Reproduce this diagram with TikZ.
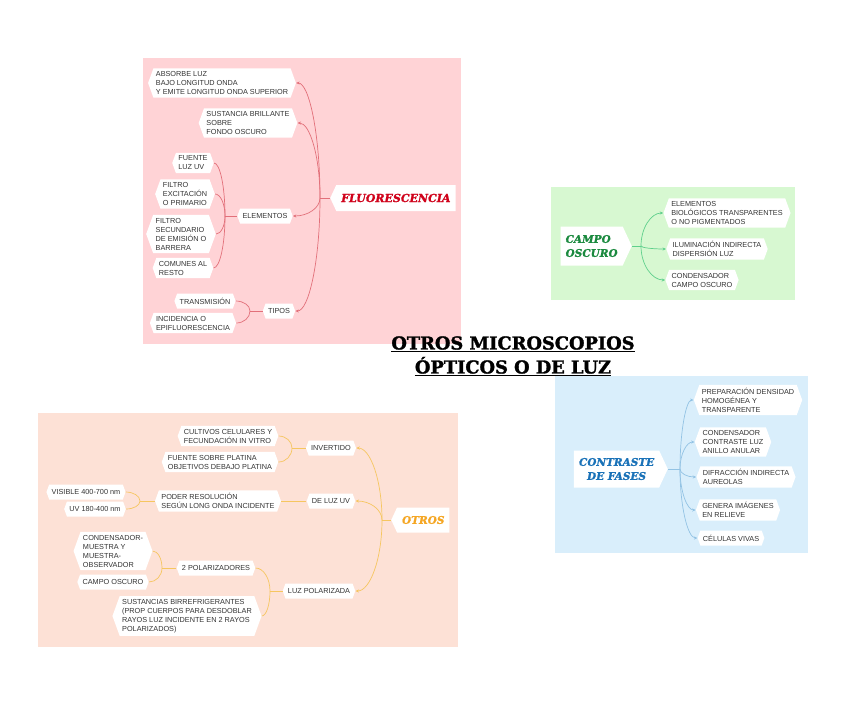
\documentclass[tikz,border=0pt]{standalone}
\usepackage{fontspec}
\setmainfont{Liberation Sans}
\newfontfamily\decofont{DejaVu Serif}[FakeBold=1.6]
\usetikzlibrary{shapes.symbols,arrows.meta,calc}
\definecolor{pinkbg}{HTML}{FFD3D6}
\definecolor{pinkln}{HTML}{E2707A}
\definecolor{greenbg}{HTML}{D7F8D1}
\definecolor{greenln}{HTML}{5FD08C}
\definecolor{bluebg}{HTML}{D9EEFB}
\definecolor{blueln}{HTML}{93C3E4}
\definecolor{peachbg}{HTML}{FDE1D6}
\definecolor{peachln}{HTML}{F6C660}
\definecolor{fluotxt}{HTML}{D0021B}
\definecolor{campotxt}{HTML}{1B8A3F}
\definecolor{contrtxt}{HTML}{1A72B8}
\definecolor{otrostxt}{HTML}{F5A623}
\definecolor{txt}{HTML}{333333}
\begin{document}
\begin{tikzpicture}[x=1pt,y=-1pt,
  hexbox/.style={signal, signal to=west and east, signal pointer angle=140,
    fill=white, draw=none, inner xsep=2.5pt, inner ysep=3pt, minimum height=15pt,
    align=left, font=\fontsize{7.3}{9}\selectfont, text=txt},
  rootbox/.style={signal, signal pointer angle=130, fill=white, draw=none,
    inner xsep=5pt, inner ysep=4pt, align=center},
  conn/.style={line width=0.7pt},
  brk/.style={to path={.. controls ($(\tikztostart)!0.55!(\tikztostart |- \tikztotarget)$)
      and ($(\tikztotarget)!0.55!(\tikztostart |- \tikztotarget)$) .. (\tikztotarget) \tikztonodes}},
  arr/.style={-{Stealth[length=3.5pt,width=3pt]}}]
\fill[white] (0,0) rectangle (848,705);
\useasboundingbox (0,0) rectangle (848,705);
% panels
\fill[pinkbg] (143,58) rectangle (461,344);
\fill[greenbg] (551,187) rectangle (795,300);
\fill[bluebg] (555,376) rectangle (808,553);
\fill[peachbg] (38,413) rectangle (458,647);

% title
\node[align=center, font=\decofont\bfseries\fontsize{17.8}{24}\selectfont, text=black] (title) at (513,356)
  {\underline{OTROS MICROSCOPIOS}\\\underline{ÓPTICOS O DE LUZ}};

% ===== FLUORESCENCIA =====
\node[rootbox, signal to=west, anchor=west, minimum height=26pt,
  font=\decofont\bfseries\itshape\fontsize{11}{12}\selectfont, text=fluotxt] (fluo) at (330,198) {FLUORESCENCIA};
\node[hexbox] (abs) at (222,83) {ABSORBE LUZ\\BAJO LONGITUD ONDA\\Y EMITE LONGITUD ONDA SUPERIOR};
\node[hexbox] (sus) at (248,123) {SUSTANCIA BRILLANTE\\SOBRE\\FONDO OSCURO};
\node[hexbox] (elem) at (265,216) {ELEMENTOS};
\node[hexbox] (tipos) at (279,311) {TIPOS};
\node[hexbox] (fuente) at (193,163) {FUENTE\\LUZ UV};
\node[hexbox] (filt1) at (185,194) {FILTRO\\EXCITACIÓN\\O PRIMARIO};
\node[hexbox] (filt2) at (181,234) {FILTRO\\SECUNDARIO\\DE EMISIÓN O\\BARRERA};
\node[hexbox] (comun) at (183,268) {COMUNES AL\\RESTO};
\node[hexbox] (trans) at (205,301) {TRANSMISIÓN};
\node[hexbox] (incid) at (193,323) {INCIDENCIA O\\EPIFLUORESCENCIA};
\coordinate (jF) at (320,198);
\coordinate (jE) at (225,216);
\coordinate (jT) at (250,311);
\begin{scope}[conn, draw=pinkln]
\draw (fluo.west) -- (jF);
\foreach \c in {abs,sus,elem,tipos}
  \draw[arr,brk] (jF) to (\c.east);
\draw (elem.west) -- (jE);
\foreach \c in {fuente,filt1,filt2,comun}
  \draw[brk] (jE) to (\c.east);
\draw (tipos.west) -- (jT);
\foreach \c in {trans,incid}
  \draw[brk] (jT) to (\c.east);
\end{scope}

% ===== CAMPO OSCURO =====
\node[rootbox, signal to=east, anchor=east, minimum height=39pt, align=left,
  font=\decofont\bfseries\itshape\fontsize{10.5}{14}\selectfont, text=campotxt] (campo) at (632,246) {CAMPO\\OSCURO};
\node[hexbox] (cbio) at (727,213) {ELEMENTOS\\BIOLÓGICOS TRANSPARENTES\\O NO PIGMENTADOS};
\node[hexbox] (cilum) at (717,249) {ILUMINACIÓN INDIRECTA\\DISPERSIÓN LUZ};
\node[hexbox] (ccond) at (702,280) {CONDENSADOR\\CAMPO OSCURO};
\coordinate (jC) at (641,246);
\begin{scope}[conn, draw=greenln]
\draw (campo.east) -- (jC);
\foreach \c in {cbio,cilum,ccond}
  \draw[arr,brk] (jC) to (\c.west);
\end{scope}

% ===== CONTRASTE DE FASES =====
\node[rootbox, signal to=east, anchor=east, minimum height=37pt,
  font=\decofont\bfseries\itshape\fontsize{10.5}{14}\selectfont, text=contrtxt] (contr) at (668,469) {CONTRASTE\\DE FASES};
\node[hexbox] (bprep) at (748,400) {PREPARACIÓN DENSIDAD\\HOMOGÉNEA Y\\TRANSPARENTE};
\node[hexbox] (bcond) at (733,442) {CONDENSADOR\\CONTRASTE LUZ\\ANILLO ANULAR};
\node[hexbox] (bdif) at (746,477) {DIFRACCIÓN INDIRECTA\\AUREOLAS};
\node[hexbox] (bgen) at (738,510) {GENERA IMÁGENES\\EN RELIEVE};
\node[hexbox] (bcel) at (731,538) {CÉLULAS VIVAS};
\coordinate (jB) at (680,469);
\begin{scope}[conn, draw=blueln]
\draw (contr.east) -- (jB);
\foreach \c in {bprep,bcond,bdif,bgen,bcel}
  \draw[arr,brk] (jB) to (\c.west);
\end{scope}

% ===== OTROS =====
\node[rootbox, signal to=west, anchor=west, minimum height=25pt,
  font=\decofont\bfseries\itshape\fontsize{10.5}{12}\selectfont, text=otrostxt] (otros) at (391,520) {OTROS};
\node[hexbox] (inv) at (331,448) {INVERTIDO};
\node[hexbox] (uv) at (331,501) {DE LUZ UV};
\node[hexbox] (pol) at (319,591) {LUZ POLARIZADA};
\node[hexbox] (cult) at (228,436) {CULTIVOS CELULARES Y\\FECUNDACIÓN IN VITRO};
\node[hexbox] (fsp) at (220,462) {FUENTE SOBRE PLATINA\\OBJETIVOS DEBAJO PLATINA};
\node[hexbox] (poder) at (218,501) {PODER RESOLUCIÓN\\SEGÚN LONG ONDA INCIDENTE};
\node[hexbox] (vis) at (86,492) {VISIBLE 400-700 nm};
\node[hexbox] (uvr) at (95,509) {UV 180-400 nm};
\node[hexbox] (dos) at (216,568) {2 POLARIZADORES};
\node[hexbox] (sust) at (187,616) {SUSTANCIAS BIRREFRIGERANTES\\(PROP CUERPOS PARA DESDOBLAR\\RAYOS LUZ INCIDENTE EN 2 RAYOS\\POLARIZADOS)};
\node[hexbox] (cmo) at (113,551) {CONDENSADOR-\\MUESTRA Y\\MUESTRA-\\OBSERVADOR};
\node[hexbox] (cos) at (113,582) {CAMPO OSCURO};
\coordinate (jO) at (382,520);
\coordinate (jI) at (292,448);
\coordinate (jP) at (140,501);
\coordinate (jL) at (270,591);
\coordinate (jD) at (162,568);
\begin{scope}[conn, draw=peachln]
\draw (otros.west) -- (jO);
\foreach \c in {inv,uv,pol}
  \draw[arr,brk] (jO) to (\c.east);
\draw (inv.west) -- (jI);
\foreach \c in {cult,fsp}
  \draw[brk] (jI) to (\c.east);
\draw (uv.west) -- (poder.east);
\draw (poder.west) -- (jP);
\foreach \c in {vis,uvr}
  \draw[brk] (jP) to (\c.east);
\draw (pol.west) -- (jL);
\foreach \c in {dos,sust}
  \draw[brk] (jL) to (\c.east);
\draw (dos.west) -- (jD);
\foreach \c in {cmo,cos}
  \draw[brk] (jD) to (\c.east);
\end{scope}
\end{tikzpicture}
\end{document}
